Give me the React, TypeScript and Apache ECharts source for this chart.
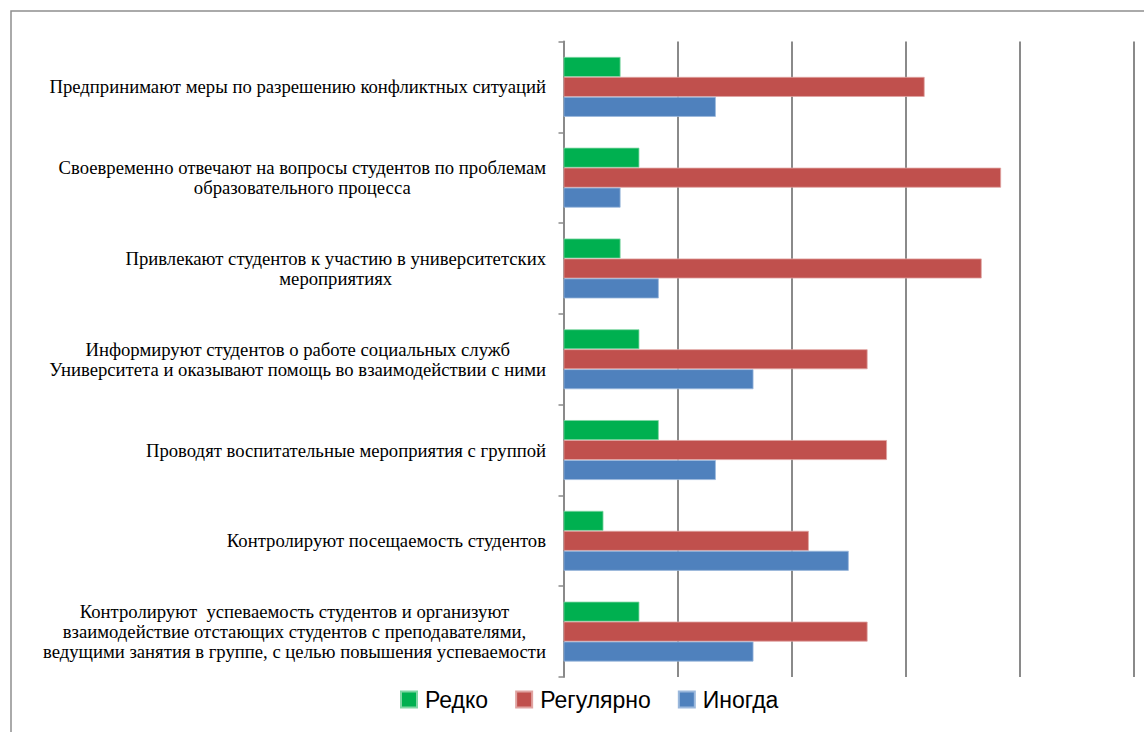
import React, { useEffect, useRef } from "react";
import * as echarts from "echarts";

const categories: string[] = [
  "Предпринимают меры по разрешению конфликтных ситуаций",
  "Своевременно отвечают на вопросы студентов по проблемам\nобразовательного процесса",
  "Привлекают студентов к участию в университетских\nмероприятиях",
  "Информируют студентов о работе социальных служб\nУниверситета и оказывают помощь во взаимодействии с ними",
  "Проводят воспитательные мероприятия с группой",
  "Контролируют посещаемость студентов",
  "Контролируют  успеваемость студентов и организуют\nвзаимодействие отстающих студентов с преподавателями,\nведущими занятия в группе, с целью повышения успеваемости",
];

const seriesNames: string[] = ["Редко", "Регулярно", "Иногда"];
const rarely: number[] = [10, 13.3, 10, 13.3, 16.7, 7, 13.3];
const regularly: number[] = [63.3, 76.7, 73.3, 53.3, 56.7, 43, 53.3];
const sometimes: number[] = [26.7, 10, 16.7, 33.3, 26.7, 50, 33.3];

const colors: string[] = ["#00B050", "#C0504D", "#4F81BD"];
const borderColors: string[] = ["#7fd6a3", "#e0a3a1", "#9bb8dc"];

export default function App() {
  const ref = useRef<HTMLDivElement>(null);

  useEffect(() => {
    if (!ref.current) return;
    const chart = echarts.init(ref.current, null, { renderer: "svg" });
    const values = [rarely, regularly, sometimes];
    chart.setOption({
      animation: false,
      graphic: [
        {
          type: "rect",
          shape: { x: 11, y: 11, width: 1300, height: 1000 },
          style: { fill: "none", stroke: "#8f8f8f", lineWidth: 1.5 },
          silent: true,
        },
      ],
      grid: {
        left: 563.5,
        right: 10,
        top: 41.5,
        bottom: 55,
        containLabel: false,
      },
      legend: {
        left: 400,
        top: 688,
        padding: 0,
        itemWidth: 16,
        itemHeight: 16,
        itemGap: 27,
        icon: "rect",
        data: seriesNames,
        textStyle: {
          fontFamily: "Liberation Sans",
          fontSize: 23,
          color: "#000",
          padding: [0, 0, 0, 3],
        },
      },
      xAxis: {
        type: "value",
        min: 0,
        max: 100,
        interval: 20,
        axisLine: { show: false },
        axisTick: { show: false },
        axisLabel: { show: false },
        splitLine: { show: true, lineStyle: { color: "#8a8a8a", width: 2 } },
      },
      yAxis: {
        type: "category",
        inverse: true,
        data: categories,
        axisLine: { show: true, lineStyle: { color: "#8a8a8a", width: 2 } },
        axisTick: { show: true, length: 5, lineStyle: { color: "#8a8a8a", width: 1.5 } },
        axisLabel: {
          margin: 17.5,
          fontFamily: "Liberation Serif",
          fontSize: 18.7,
          lineHeight: 20,
          color: "#000",
          formatter: (v: string) =>
            v
              .split("\n")
              .map((l) => "{c|" + l + "}")
              .join("\n"),
          rich: {
            c: {
              align: "center",
              fontFamily: "Liberation Serif",
              fontSize: 18.7,
              lineHeight: 20,
              color: "#000",
            },
          },
        },
      },
      series: seriesNames.map((name, i) => ({
        name,
        type: "bar",
        data: values[i],
        barGap: "0%",
        barCategoryGap: "34%",
        itemStyle: {
          color: colors[i],
          borderColor: borderColors[i],
          borderWidth: 0.8,
        },
      })),
    });
    return () => chart.dispose();
  }, []);

  return (
    <div
      ref={ref}
      style={{ position: "absolute", left: 0, top: 0, width: 1144, height: 732 }}
    />
  );
}
